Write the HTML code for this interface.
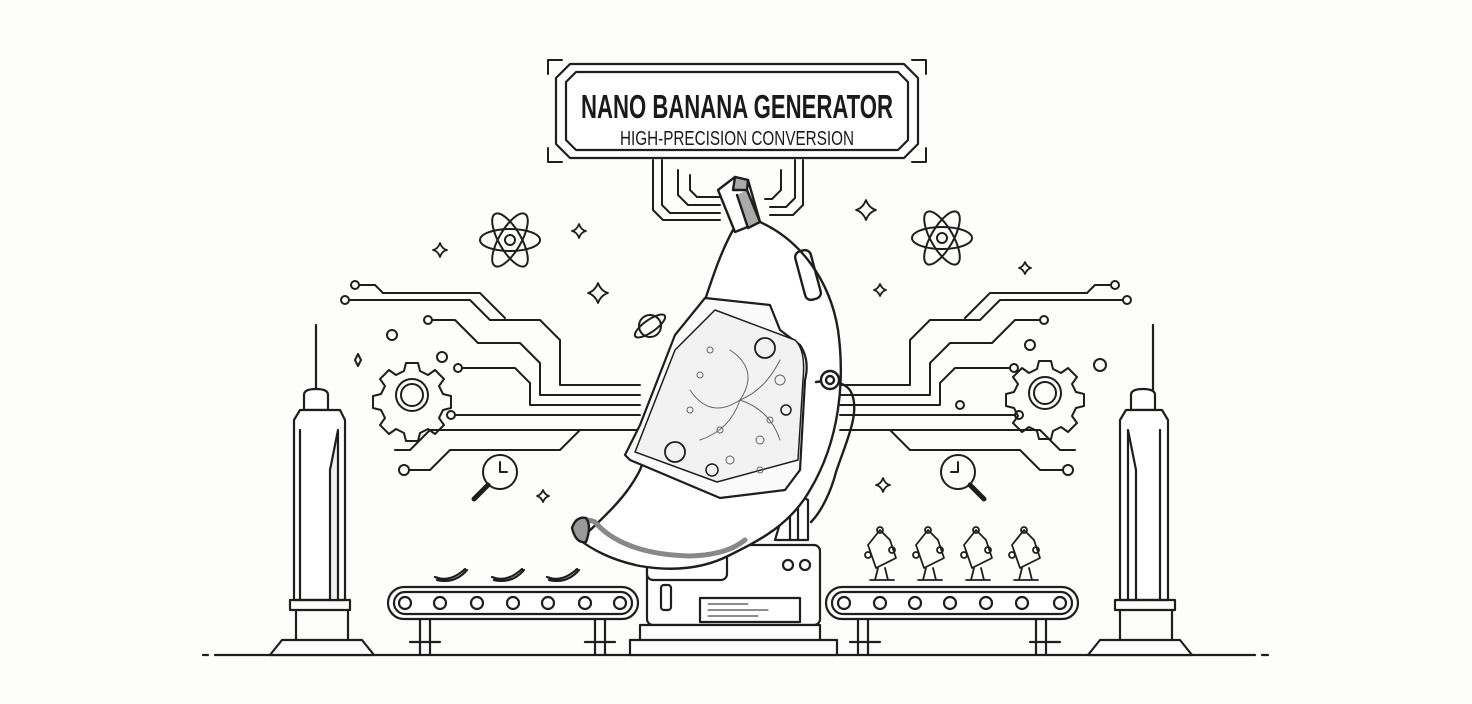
<!DOCTYPE html>
<html><head><meta charset="utf-8"><style>
html,body{margin:0;padding:0;background:#fdfdfc;}
svg{display:block}
text{font-family:"Liberation Sans Narrow","Liberation Sans",sans-serif;font-weight:bold;fill:#1a1a1a}
</style></head><body>
<svg width="1472" height="704" viewBox="0 0 1472 704" fill="none" stroke="#1e1e1e" stroke-width="2.2" stroke-linejoin="round" stroke-linecap="round">
<rect width="1472" height="704" fill="#fdfdfc" stroke="none"/>
<line x1="215" y1="655" x2="1255" y2="655"/>
<line x1="203" y1="655" x2="208" y2="655"/><line x1="1262" y1="655" x2="1268" y2="655"/>

<g>
<path d="M562 60 L548 60 L548 74 M548 148 L548 162 L562 162 M912 60 L926 60 L926 74 M926 148 L926 162 L912 162" stroke-width="2"/>
<path d="M570 64 L904 64 L918 78 L918 144 L904 158 L570 158 L556 144 L556 78 Z" fill="#fff"/>
<path d="M576 72 L898 72 L908 82 L908 140 L898 150 L576 150 L566 140 L566 82 Z"/>
<text x="737" y="118" font-size="33" text-anchor="middle" textLength="312" lengthAdjust="spacingAndGlyphs" stroke="none">NANO BANANA GENERATOR</text>
<text x="737" y="145" font-size="20" text-anchor="middle" textLength="234" lengthAdjust="spacingAndGlyphs" stroke="none" style="font-weight:normal">HIGH-PRECISION CONVERSION</text>
</g>
<g stroke-width="2">
<path d="M653 160 L653 210 L663 220 L720 220"/>
<path d="M662 160 L662 205 L670 213 L720 213"/>
<path d="M678 170 L678 195 L688 205 L720 205"/>
<path d="M690 175 L690 190 L697 197 L720 197"/>
<path d="M803 160 L803 205 L793 215 L770 215"/>
<path d="M795 160 L795 198 L786 207 L770 207"/>
<path d="M781 170 L781 190 L772 199 L765 199"/>
</g>

<g stroke-width="2">
<circle cx="345" cy="300" r="4"/><path d="M349 300 L470 300 L490 320 L540 320 L560 340 L560 385 L640 385"/>
<circle cx="355" cy="285" r="4"/><path d="M359 285 L375 285 L383 293 L480 293 L505 318"/>
<path d="M432 320 L455 320 L478 343 L520 343 L540 363 L540 395 L640 395"/>
<circle cx="428" cy="320" r="4"/>
<circle cx="392" cy="335" r="5"/><circle cx="442" cy="357" r="5"/>
<path d="M462 368 L515 368 L530 383 L530 405 L640 405"/>
<circle cx="458" cy="368" r="4"/>
<path d="M455 415 L640 415"/><circle cx="451" cy="415" r="4"/>
<path d="M395 450 L410 450 L430 430 L640 430"/><circle cx="404" cy="470" r="5"/>
<path d="M409 470 L430 470 L450 450 L560 450 L580 430"/>
<path d="M355 360 l3 -6 l3 6 l-3 6 z" />
</g>
<g stroke-width="2">
<circle cx="1127" cy="300" r="4"/><path d="M1123 300 L1000 300 L980 320 L930 320 L910 340 L910 385 L840 385"/>
<circle cx="1115" cy="285" r="4"/><path d="M1111 285 L1095 285 L1087 293 L990 293 L965 318"/>
<path d="M1040 320 L1015 320 L992 343 L950 343 L930 363 L930 395 L840 395"/>
<circle cx="1044" cy="320" r="4"/>
<circle cx="1100" cy="365" r="6"/><circle cx="1030" cy="345" r="5"/>
<path d="M1010 368 L955 368 L940 383 L940 405 L840 405"/>
<circle cx="1014" cy="368" r="4"/>
<path d="M1015 415 L840 415"/><circle cx="1019" cy="415" r="4"/>
<path d="M1075 450 L1060 450 L1040 430 L840 430"/><circle cx="1068" cy="470" r="5"/>
<path d="M1063 470 L1040 470 L1020 450 L910 450 L890 430"/>
<circle cx="960" cy="405" r="4"/>
</g>

<g stroke-width="2" transform="translate(510 240)">
<ellipse rx="30" ry="11"/><ellipse rx="30" ry="11" transform="rotate(60)"/><ellipse rx="30" ry="11" transform="rotate(-60)"/><circle r="5"/>
</g>
<g stroke-width="2" transform="translate(942 238)">
<ellipse rx="30" ry="11"/><ellipse rx="30" ry="11" transform="rotate(60)"/><ellipse rx="30" ry="11" transform="rotate(-60)"/><circle r="5"/>
</g>
<g stroke-width="1.8">
<path d="M440 243 q2 6 7 7 q-5 1 -7 7 q-2 -6 -7 -7 q5 -1 7 -7z"/>
<path d="M579 224 q2 6 7 7 q-5 1 -7 7 q-2 -6 -7 -7 q5 -1 7 -7z"/>
<path d="M598 283 q3 8 10 10 q-7 2 -10 10 q-3 -8 -10 -10 q7 -2 10 -10z"/>
<path d="M866 200 q3 8 10 10 q-7 2 -10 10 q-3 -8 -10 -10 q7 -2 10 -10z"/>
<path d="M880 284 q2 5 6 6 q-4 1 -6 6 q-2 -5 -6 -6 q4 -1 6 -6z"/>
<path d="M1025 262 q2 5 6 6 q-4 1 -6 6 q-2 -5 -6 -6 q4 -1 6 -6z"/>
<path d="M543 490 q2 5 6 6 q-4 1 -6 6 q-2 -5 -6 -6 q4 -1 6 -6z"/>
<path d="M883 478 q2 6 7 7 q-5 1 -7 7 q-2 -6 -7 -7 q5 -1 7 -7z"/>
</g>
<g stroke-width="2"><circle cx="650" cy="326" r="11"/><ellipse cx="650" cy="326" rx="18" ry="6" transform="rotate(-35 650 326)"/></g>
<g transform="translate(412 395)" stroke-width="2">
<path d="M-6 -32 h12 l2 8 l8 4 l7 -5 l9 9 l-5 7 l4 8 l8 2 v12 l-8 2 l-4 8 l5 7 l-9 9 l-7 -5 l-8 4 l-2 8 h-12 l-2 -8 l-8 -4 l-7 5 l-9 -9 l5 -7 l-4 -8 l-8 -2 v-12 l8 -2 l4 -8 l-5 -7 l9 -9 l7 5 l8 -4 z"/>
<circle r="16"/><circle r="11"/></g>
<g transform="translate(1045 393)" stroke-width="2">
<path d="M-6 -32 h12 l2 8 l8 4 l7 -5 l9 9 l-5 7 l4 8 l8 2 v12 l-8 2 l-4 8 l5 7 l-9 9 l-7 -5 l-8 4 l-2 8 h-12 l-2 -8 l-8 -4 l-7 5 l-9 -9 l5 -7 l-4 -8 l-8 -2 v-12 l8 -2 l4 -8 l-5 -7 l9 -9 l7 5 l8 -4 z"/>
<circle r="16"/><circle r="11"/></g>
<g stroke-width="2"><circle cx="500" cy="472" r="17"/><path d="M500 462 v10 h7"/><path d="M488 485 l-14 14" stroke-width="5"/></g>
<g stroke-width="2"><circle cx="958" cy="472" r="17"/><path d="M958 462 v10 h-7"/><path d="M970 485 l14 14" stroke-width="5"/></g>

<g stroke-width="2.2">
<path d="M316 325 v65"/>
<path d="M304 410 v-15 q0 -6 12 -6 q12 0 12 6 v15 z" fill="#fff"/>
<path d="M294 600 L294 420 L300 410 L340 410 L345 420 L345 600 Z" fill="#fff"/>
<path d="M300 600 V430 M338 600 V430 L330 470 L330 600" fill="#eee"/>
<path d="M290 600 h60 v10 h-60 z M296 610 v30 M348 610 v30"/>
<path d="M282 640 h80 l12 15 h-104 z" fill="#fff"/>
</g>
<g stroke-width="2.2">
<path d="M1153 325 v65"/>
<path d="M1131 410 v-15 q0 -6 12 -6 q12 0 12 6 v15 z" fill="#fff"/>
<path d="M1120 600 L1120 420 L1126 410 L1162 410 L1168 420 L1168 600 Z" fill="#fff"/>
<path d="M1160 600 V430 M1128 600 V430 L1136 470 L1136 600"/>
<path d="M1115 600 h60 v10 h-60 z M1120 610 v30 M1172 610 v30"/>
<path d="M1100 640 h80 l12 15 h-104 z" fill="#fff"/>
</g>

<g stroke-width="2.2">
<rect x="388" y="587" width="250" height="32" rx="16" fill="#fff"/>
<rect x="394" y="592" width="238" height="22" rx="11"/>
<circle cx="405" cy="603" r="6"/><circle cx="440" cy="603" r="6"/><circle cx="477" cy="603" r="6"/><circle cx="513" cy="603" r="6"/><circle cx="548" cy="603" r="6"/><circle cx="585" cy="603" r="6"/><circle cx="620" cy="603" r="6"/>
<path d="M420 619 v36 M430 619 v36 M595 619 v36 M605 619 v36 M410 642 h30 M585 642 h30"/>
<path d="M435 577 q15 6 30 -8 M437 580 q18 4 30 -10" />
<path d="M492 577 q15 6 30 -8 M494 580 q18 4 30 -10" />
<path d="M547 577 q15 6 30 -8 M549 580 q18 4 30 -10" />
</g>
<g stroke-width="2.2">
<rect x="826" y="587" width="252" height="32" rx="16" fill="#fff"/>
<rect x="832" y="592" width="240" height="22" rx="11"/>
<circle cx="844" cy="603" r="6"/><circle cx="880" cy="603" r="6"/><circle cx="915" cy="603" r="6"/><circle cx="950" cy="603" r="6"/><circle cx="986" cy="603" r="6"/><circle cx="1022" cy="603" r="6"/><circle cx="1060" cy="603" r="6"/>
<path d="M858 619 v36 M868 619 v36 M1036 619 v36 M1046 619 v36 M850 642 h30 M1030 642 h30"/>
</g>
<g stroke-width="1.8">
<g transform="translate(880 555)"><path d="M-10 25 h24 M-5 25 l3 -12 M8 25 l-3 -12"/><path d="M-12 -10 l12 -15 l10 10 l6 18 l-20 10 z"/><circle cx="-12" cy="0" r="3"/><circle cx="12" cy="-5" r="3"/><circle cx="0" cy="-25" r="3"/></g>
<g transform="translate(928 555)"><path d="M-10 25 h24 M-5 25 l3 -12 M8 25 l-3 -12"/><path d="M-12 -10 l12 -15 l10 10 l6 18 l-20 10 z"/><circle cx="-12" cy="0" r="3"/><circle cx="12" cy="-5" r="3"/><circle cx="0" cy="-25" r="3"/></g>
<g transform="translate(976 555)"><path d="M-10 25 h24 M-5 25 l3 -12 M8 25 l-3 -12"/><path d="M-12 -10 l12 -15 l10 10 l6 18 l-20 10 z"/><circle cx="-12" cy="0" r="3"/><circle cx="12" cy="-5" r="3"/><circle cx="0" cy="-25" r="3"/></g>
<g transform="translate(1024 555)"><path d="M-10 25 h24 M-5 25 l3 -12 M8 25 l-3 -12"/><path d="M-12 -10 l12 -15 l10 10 l6 18 l-20 10 z"/><circle cx="-12" cy="0" r="3"/><circle cx="12" cy="-5" r="3"/><circle cx="0" cy="-25" r="3"/></g>
</g>

<g stroke-width="2.2">
<path d="M775 540 L808 540 L808 500 L790 490 Z M790 505 v35 M798 500 v40" fill="#fff"/>
<rect x="647" y="545" width="173" height="80" rx="6" fill="#fff"/>
<rect x="647" y="545" width="80" height="35" rx="6" fill="#fff"/>
<circle cx="662" cy="562" r="5"/><circle cx="788" cy="565" r="5"/><circle cx="805" cy="565" r="5"/>
<rect x="661" y="585" width="10" height="25" rx="3"/>
<rect x="700" y="598" width="100" height="24"/>
<path d="M708 604 h40 M708 610 h60 M708 616 h50" stroke-width="1"/>
<path d="M640 625 h180 v15 h-180 z M630 640 h207 v15 h-207 z" fill="#fff"/>
</g>

<g stroke-width="2.4">
<path d="M733 230 L760 222 C800 240 830 280 838 330 C845 380 840 440 810 490 C790 525 760 540 730 555 C705 568 675 572 640 566 C610 560 590 548 580 540 C600 520 625 500 640 470 L705 300 C715 270 722 250 733 230 Z" fill="#fff"/>
<path d="M577 530 C578 520 585 518 595 522 C610 540 640 555 690 556 C720 555 735 548 745 540" stroke="#888" stroke-width="5"/>
<path d="M572 528 q4 -12 14 -10 q6 8 0 24 q-10 2 -14 -14z" fill="#999"/>
<path d="M718 190 L735 177 L748 180 L760 222 L735 232 Z" fill="#fff"/>
<path d="M735 177 L748 180 L747 190 L733 190 Z M747 190 L760 222 L748 228 L737 195" fill="#aaa"/>
<rect x="800" y="250" width="16" height="50" rx="6" transform="rotate(-15 808 275)"/>
<path d="M816 382 c15 -2 30 0 35 10 c10 20 -5 50 -15 80 c-5 20 -15 40 -25 50"/>
<circle cx="830" cy="380" r="9" fill="#fff"/><circle cx="830" cy="380" r="4"/>
</g>
<g stroke-width="2.2">
<path d="M705 298 L770 305 L780 330 L800 345 Q810 360 805 380 L800 470 L785 490 L720 498 L630 460 L625 455 L640 425 L675 335 Z" fill="#fafafa"/>
<path d="M715 310 L795 340 Q806 350 803 380 L798 460 L717 482 L635 452 L675 350 Z" fill="#f2f2f2" stroke-width="1.5"/>
<g stroke-width="1" stroke="#666">
<path d="M740 400 q20 -30 -10 -50 M740 400 q-30 20 -50 -10 M740 400 q30 10 40 40 M740 400 q-10 30 -40 40 M740 400 q25 -10 40 -40"/>
<circle cx="720" cy="430" r="3"/><circle cx="760" cy="440" r="4"/><circle cx="700" cy="375" r="3"/><circle cx="780" cy="380" r="5"/><circle cx="770" cy="420" r="3"/><circle cx="690" cy="410" r="3"/><circle cx="730" cy="460" r="4"/><circle cx="760" cy="470" r="3"/><circle cx="710" cy="350" r="3"/>
</g>
<circle cx="765" cy="348" r="10" stroke-width="1.8"/><circle cx="675" cy="452" r="10" stroke-width="1.8"/><circle cx="712" cy="470" r="6" stroke-width="1.5"/><circle cx="786" cy="410" r="5" stroke-width="1.5"/>
</g>
</svg>
</body></html>
